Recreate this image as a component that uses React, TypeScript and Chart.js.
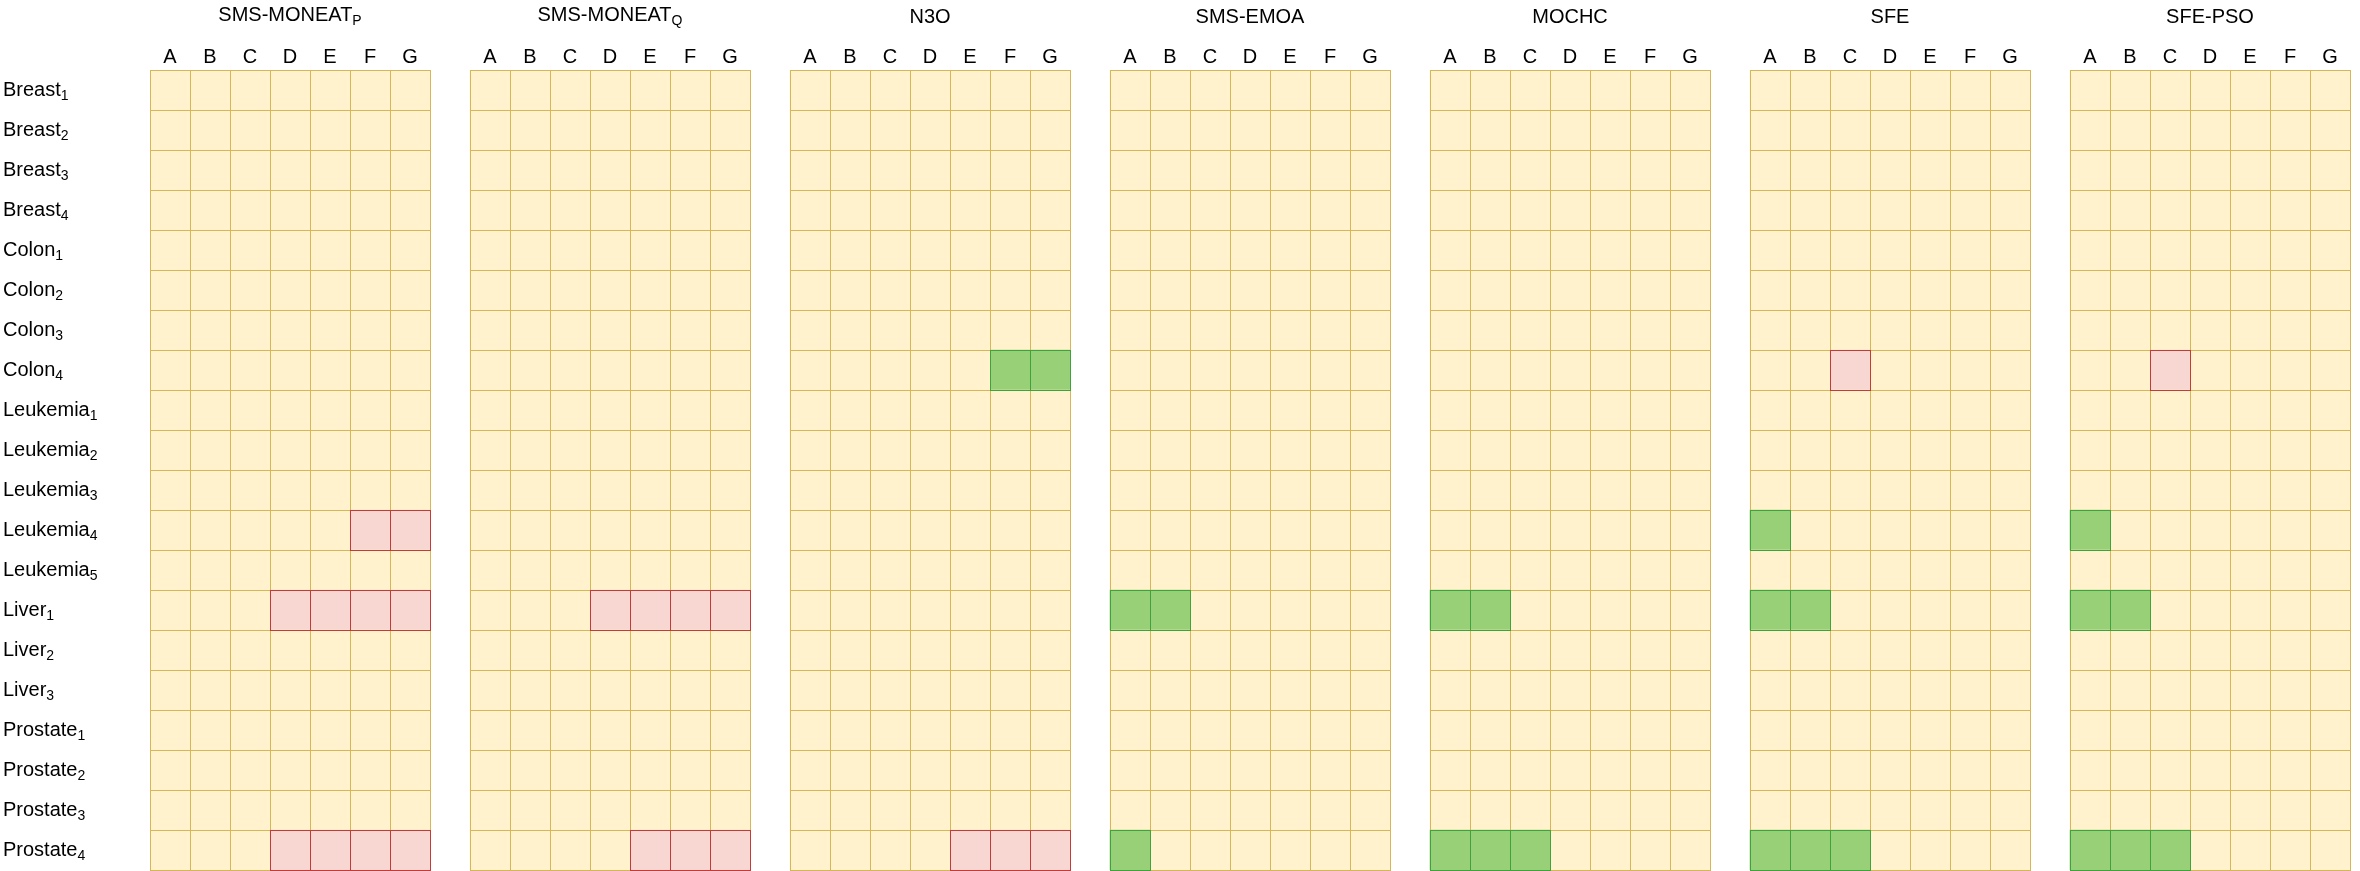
import React, { useEffect, useRef } from 'react';
import { Chart, registerables } from 'chart.js';

Chart.register(...registerables);

// ---------- data ----------
const COLUMNS = ['A', 'B', 'C', 'D', 'E', 'F', 'G'];

const ROW_NAMES = [
  'Breast', 'Breast', 'Breast', 'Breast',
  'Colon', 'Colon', 'Colon', 'Colon',
  'Leukemia', 'Leukemia', 'Leukemia', 'Leukemia', 'Leukemia',
  'Liver', 'Liver', 'Liver',
  'Prostate', 'Prostate', 'Prostate', 'Prostate',
];
const ROW_SUBS = [
  '1', '2', '3', '4',
  '1', '2', '3', '4',
  '1', '2', '3', '4', '5',
  '1', '2', '3',
  '1', '2', '3', '4',
];

const METHODS = ['SMS-MONEAT', 'SMS-MONEAT', 'N3O', 'SMS-EMOA', 'MOCHC', 'SFE', 'SFE-PSO'];
const METHOD_SUBS = ['P', 'Q', '', '', '', '', ''];

// '.' = neutral, 'r' = worse (red), 'g' = better (green); one string per row, one char per column A..G
const STATUS_SMS_MONEAT_P = [
  '.......', '.......', '.......', '.......',
  '.......', '.......', '.......', '.......',
  '.......', '.......', '.......', '.....rr', '.......',
  '...rrrr', '.......', '.......',
  '.......', '.......', '.......', '...rrrr',
];
const STATUS_SMS_MONEAT_Q = [
  '.......', '.......', '.......', '.......',
  '.......', '.......', '.......', '.......',
  '.......', '.......', '.......', '.......', '.......',
  '...rrrr', '.......', '.......',
  '.......', '.......', '.......', '....rrr',
];
const STATUS_N3O = [
  '.......', '.......', '.......', '.......',
  '.......', '.......', '.......', '.....gg',
  '.......', '.......', '.......', '.......', '.......',
  '.......', '.......', '.......',
  '.......', '.......', '.......', '....rrr',
];
const STATUS_SMS_EMOA = [
  '.......', '.......', '.......', '.......',
  '.......', '.......', '.......', '.......',
  '.......', '.......', '.......', '.......', '.......',
  'gg.....', '.......', '.......',
  '.......', '.......', '.......', 'g......',
];
const STATUS_MOCHC = [
  '.......', '.......', '.......', '.......',
  '.......', '.......', '.......', '.......',
  '.......', '.......', '.......', '.......', '.......',
  'gg.....', '.......', '.......',
  '.......', '.......', '.......', 'ggg....',
];
const STATUS_SFE = [
  '.......', '.......', '.......', '.......',
  '.......', '.......', '.......', '..r....',
  '.......', '.......', '.......', 'g......', '.......',
  'gg.....', '.......', '.......',
  '.......', '.......', '.......', 'ggg....',
];
const STATUS_SFE_PSO = [
  '.......', '.......', '.......', '.......',
  '.......', '.......', '.......', '..r....',
  '.......', '.......', '.......', 'g......', '.......',
  'gg.....', '.......', '.......',
  '.......', '.......', '.......', 'ggg....',
];

const STATUS = [
  STATUS_SMS_MONEAT_P,
  STATUS_SMS_MONEAT_Q,
  STATUS_N3O,
  STATUS_SMS_EMOA,
  STATUS_MOCHC,
  STATUS_SFE,
  STATUS_SFE_PSO,
];

// ---------- styles ----------
const FILL: Record<string, string> = { '.': '#FFF2CC', r: '#F8D7D3', g: '#97D077' };
const STROKE: Record<string, string> = { '.': '#D6B656', r: '#C43A36', g: '#3DA33D' };
const FONT_FAMILY = '"Liberation Sans", Arial, Helvetica, sans-serif';
const MAIN_FONT = `20px ${FONT_FAMILY}`;
const SUB_FONT = `14px ${FONT_FAMILY}`;
const PANEL_STRIDE = 8; // 7 columns + 1 gap unit

const cellPlugin = {
  id: 'cellBordersAndLabels',
  afterDatasetsDraw(chart: any) {
    const ctx = chart.ctx as CanvasRenderingContext2D;
    ctx.save();
    ctx.lineWidth = 1;
    const passes = ['.', 'r', 'g'];
    passes.forEach((pass) => {
      chart.data.datasets.forEach((_ds: any, i: number) => {
        const m = Math.floor(i / COLUMNS.length);
        const c = i % COLUMNS.length;
        const meta = chart.getDatasetMeta(i);
        meta.data.forEach((el: any, r: number) => {
          const st = STATUS[m][r][c];
          if (st !== pass) return;
          const p = el.getProps(['x', 'y', 'base', 'height'], true);
          const left = Math.round(Math.min(p.x, p.base));
          const right = Math.round(Math.max(p.x, p.base));
          const top = Math.round(p.y - p.height / 2);
          const bottom = Math.round(p.y + p.height / 2);
          ctx.strokeStyle = STROKE[st];
          ctx.strokeRect(left + 0.5, top + 0.5, right - left, bottom - top);
        });
      });
    });
    ctx.restore();
  },
  afterDraw(chart: any) {
    const ctx = chart.ctx as CanvasRenderingContext2D;
    const xs = chart.scales.x;
    const ys = chart.scales.y;
    const top = chart.chartArea.top;
    ctx.save();
    ctx.fillStyle = '#000000';
    ctx.textBaseline = 'alphabetic';
    ctx.textAlign = 'left';

    // panel titles
    METHODS.forEach((name, m) => {
      const cx = xs.getPixelForValue(m * PANEL_STRIDE + COLUMNS.length / 2);
      const sub = METHOD_SUBS[m];
      ctx.font = MAIN_FONT;
      const w1 = ctx.measureText(name).width;
      ctx.font = SUB_FONT;
      const w2 = sub ? ctx.measureText(sub).width : 0;
      const start = cx - (w1 + w2) / 2;
      const base = sub ? top - 49 : top - 47;
      ctx.font = MAIN_FONT;
      ctx.fillText(name, start, base);
      if (sub) {
        ctx.font = SUB_FONT;
        ctx.fillText(sub, start + w1, base + 4);
      }
    });

    // column letters
    ctx.font = MAIN_FONT;
    ctx.textAlign = 'center';
    METHODS.forEach((_n, m) => {
      COLUMNS.forEach((col, c) => {
        const cx = xs.getPixelForValue(m * PANEL_STRIDE + c + 0.5);
        ctx.fillText(col, cx, top - 7);
      });
    });

    // row labels
    ctx.textAlign = 'left';
    ROW_NAMES.forEach((name, r) => {
      const cy = ys.getPixelForValue(r);
      ctx.font = MAIN_FONT;
      const w = ctx.measureText(name).width;
      ctx.fillText(name, 3, cy + 6);
      ctx.font = SUB_FONT;
      ctx.fillText(ROW_SUBS[r], 3 + w, cy + 10);
    });
    ctx.restore();
  },
};

export default function App() {
  const ref = useRef<HTMLCanvasElement>(null);

  useEffect(() => {
    document.body.style.margin = '0';
    const canvas = ref.current;
    if (!canvas) return;

    const labels = ROW_NAMES.map((n, r) => `${n}${ROW_SUBS[r]}`);
    const datasets: any[] = [];
    METHODS.forEach((_name, m) => {
      COLUMNS.forEach((_col, c) => {
        const x0 = m * PANEL_STRIDE + c;
        datasets.push({
          label: `${METHODS[m]}${METHOD_SUBS[m]}-${COLUMNS[c]}`,
          data: ROW_NAMES.map(() => [x0, x0 + 1]),
          backgroundColor: ROW_NAMES.map((_n, r) => FILL[STATUS[m][r][c]]),
          borderWidth: 0,
          barPercentage: 1,
          categoryPercentage: 1,
          grouped: false,
        });
      });
    });

    const chart = new Chart(canvas, {
      type: 'bar',
      data: { labels, datasets },
      options: {
        indexAxis: 'y',
        responsive: false,
        animation: false,
        devicePixelRatio: 1,
        layout: { padding: { left: 150, right: 10, top: 70, bottom: 1 } },
        plugins: {
          legend: { display: false },
          tooltip: { enabled: false },
        },
        scales: {
          x: {
            type: 'linear',
            min: 0,
            max: METHODS.length * PANEL_STRIDE - 1,
            display: false,
          },
          y: {
            type: 'category',
            display: false,
          },
        },
      },
      plugins: [cellPlugin],
    });

    return () => chart.destroy();
  }, []);

  return (
    <canvas
      ref={ref}
      width={2360}
      height={871}
      style={{ display: 'block', width: '2360px', height: '871px' }}
    />
  );
}
